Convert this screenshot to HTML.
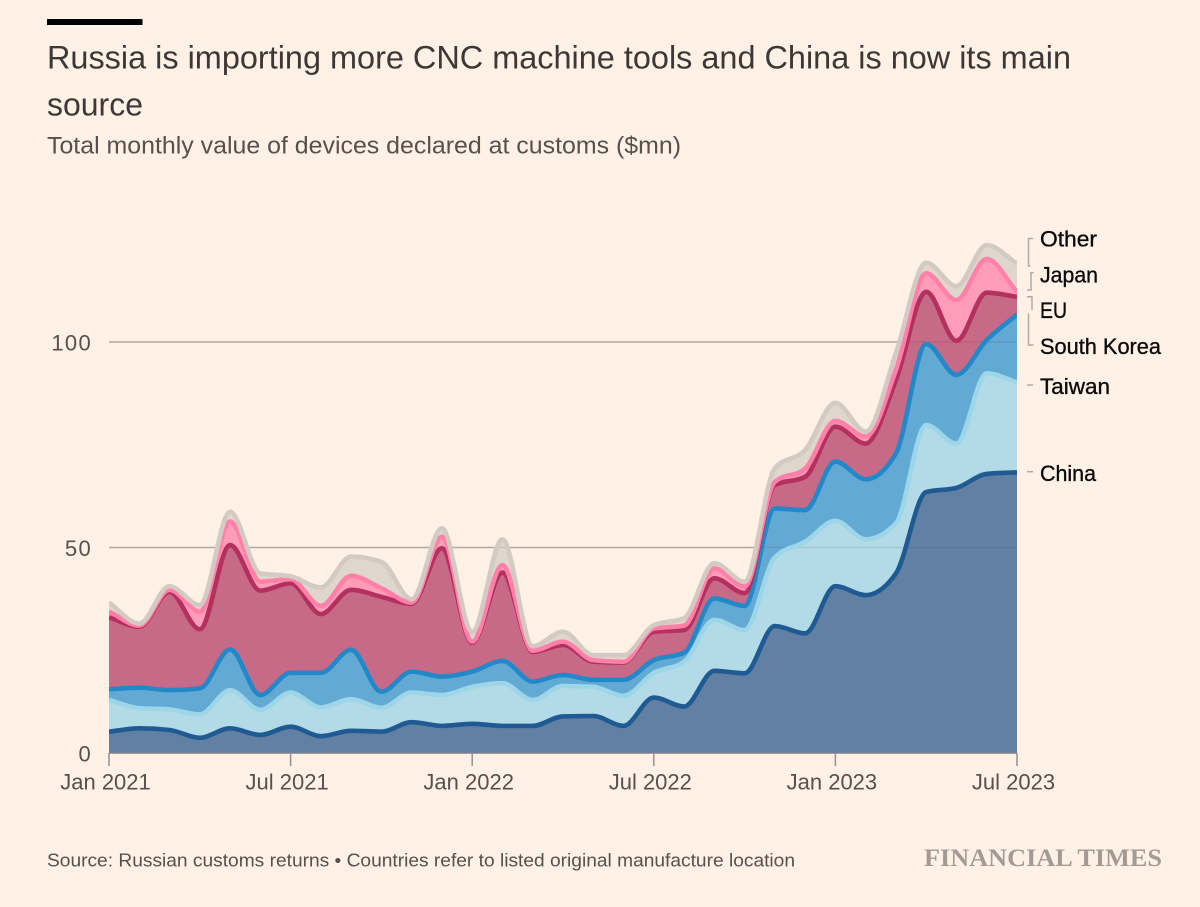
<!DOCTYPE html>
<html lang="en">
<head>
<meta charset="utf-8">
<title>Russia CNC machine tool imports</title>
<style>
html,body{margin:0;padding:0;background:#fff1e6;width:1200px;height:907px;overflow:hidden}
svg{display:block;font-family:"Liberation Sans",sans-serif}
</style>
</head>
<body>
<svg id="chart" xmlns="http://www.w3.org/2000/svg" width="1200" height="907" viewBox="0 0 1200 907">
  <defs>
    <clipPath id="plot-clip"><rect x="109" y="150" width="908" height="603.5"/></clipPath>
  </defs>
  <rect width="1200" height="907" fill="#fff1e6"/>
  <rect x="47" y="19" width="95.5" height="6" fill="#000"/>
  <text x="47" y="68.5" font-size="32.5" fill="#3d3835" textLength="1024" lengthAdjust="spacingAndGlyphs">Russia is importing more CNC machine tools and China is now its main</text>
  <text x="47" y="115.5" font-size="32.5" fill="#3d3835" textLength="96" lengthAdjust="spacingAndGlyphs">source</text>
  <text x="47" y="153.5" font-size="24" fill="#57504c" textLength="634" lengthAdjust="spacingAndGlyphs">Total monthly value of devices declared at customs ($mn)</text>
  <g id="grid-back"></g>
  <g id="areas" clip-path="url(#plot-clip)"></g>
  <g id="grid-front"></g>
  <g id="lines" clip-path="url(#plot-clip)"></g>
  <g id="x-axis"></g>
  <g id="y-axis"></g>
  <g font-size="22" fill="#0b0b0b" stroke="#0b0b0b" stroke-width="0.35">
    <text x="1040" y="246.5" textLength="57" lengthAdjust="spacingAndGlyphs">Other</text>
    <text x="1040" y="282.5" textLength="58" lengthAdjust="spacingAndGlyphs">Japan</text>
    <text x="1040" y="318" textLength="27" lengthAdjust="spacingAndGlyphs">EU</text>
    <text x="1040" y="354" textLength="121" lengthAdjust="spacingAndGlyphs">South Korea</text>
    <text x="1040" y="394" textLength="70" lengthAdjust="spacingAndGlyphs">Taiwan</text>
    <text x="1040" y="481" textLength="56" lengthAdjust="spacingAndGlyphs">China</text>
  </g>
  <g fill="none" stroke="#b0aaa5" stroke-width="1.5">
    <path d="M1033 238.5H1028.500V266H1030.500"/>
    <path d="M1033.500 272.700H1031V290H1027"/>
    <path d="M1027 296.700H1032V310"/>
    <path d="M1028.500 313.500V345H1033.500"/>
    <path d="M1027 385H1033"/>
    <path d="M1027 471.700H1033"/>
  </g>
  <text x="47" y="866.5" font-size="18" fill="#57504c" textLength="748" lengthAdjust="spacingAndGlyphs">Source: Russian customs returns • Countries refer to listed original manufacture location</text>
  <text x="924" y="866" font-size="25" font-weight="700" fill="#a39b93" style="font-family:'Liberation Serif',serif" textLength="238" lengthAdjust="spacingAndGlyphs">FINANCIAL TIMES</text>
</svg>
<script>
const monthCount = ["2021-01","2021-02","2021-03","2021-04","2021-05","2021-06","2021-07","2021-08","2021-09","2021-10","2021-11","2021-12","2022-01","2022-02","2022-03","2022-04","2022-05","2022-06","2022-07","2022-08","2022-09","2022-10","2022-11","2022-12","2023-01","2023-02","2023-03","2023-04","2023-05","2023-06","2023-07"];
const china = [5.2,6.0,5.6,3.7,6.0,4.4,6.4,4.1,5.4,5.2,7.5,6.6,7.1,6.6,6.6,8.9,9.0,6.6,13.5,11.3,20.0,19.4,30.9,29.1,40.6,38.4,43.7,63.5,64.5,67.9,68.3];
const taiwan = [7.7,4.9,5.0,5.7,9.3,6.1,8.3,7.0,7.7,5.8,7.2,7.5,9.0,10.4,6.3,7.4,7.1,7.3,6.0,10.9,12.4,10.5,16.7,22.3,15.9,13.6,12.2,16.3,10.8,24.5,21.9];
const southKorea = [2.6,5.0,4.7,6.3,9.9,3.6,4.8,8.4,12.0,3.9,5.1,4.5,3.7,5.4,4.5,2.7,1.7,3.9,3.1,2.2,5.2,5.9,11.9,7.7,14.4,14.6,17.0,19.7,16.7,8.1,16.5];
const eu = [17.5,14.8,23.9,14.4,25.4,25.4,21.8,14.3,14.6,23.1,16.5,31.2,7.0,21.5,7.2,7.3,4.4,4.2,6.9,5.5,4.9,3.1,5.7,8.1,8.5,8.7,17.8,12.7,8.3,11.5,4.3];
const japan = [1.4,0.3,0.5,4.3,5.7,2.2,1.0,2.0,3.4,2.1,0.3,2.8,0.3,1.8,0.3,0.8,0.4,0.2,0.8,1.1,2.4,1.6,0.8,2.0,1.4,1.7,2.5,4.5,9.9,8.2,1.2];
const other = [2.2,0.5,0.9,1.6,2.4,2.0,0.7,4.5,4.7,6.4,0.8,2.1,2.4,6.3,1.1,2.4,1.2,1.6,0.8,1.8,1.3,1.2,3.3,4.5,4.4,1.2,4.1,2.6,3.4,3.4,6.9];
const yTicks = [0,50,100];
const xTickLabels = ["Jan 2021","Jul 2021","Jan 2022","Jul 2022","Jan 2023","Jul 2023"];
const xTickMonths = [0,6,12,18,24,30];

const xScale = m => 109 + (1017 - 109) * m / 30;
const yScale = v => 753 - (753 - 342) * v / 100;
const NS = "http://www.w3.org/2000/svg";
const fmt = n => n.toFixed(2);

function monotonePath(pts) {
  const n = pts.length, slopes = [], tang = [];
  for (let i = 0; i < n - 1; i++) slopes.push((pts[i+1][1] - pts[i][1]) / (pts[i+1][0] - pts[i][0]));
  for (let i = 1; i < n - 1; i++) {
    const a = slopes[i-1], b = slopes[i];
    tang[i] = a * b <= 0 ? 0 : (Math.sign(a) * Math.min(Math.abs(a), Math.abs(b), (Math.abs(a) + Math.abs(b)) / 4) * 2);
  }
  tang[0] = slopes[0];
  tang[n-1] = slopes[n-2];
  let d = "M" + fmt(pts[0][0]) + " " + fmt(pts[0][1]);
  for (let i = 0; i < n - 1; i++) {
    const h = (pts[i+1][0] - pts[i][0]) / 3;
    d += "C" + fmt(pts[i][0] + h) + " " + fmt(pts[i][1] + h * tang[i]) + " " + fmt(pts[i+1][0] - h) + " " + fmt(pts[i+1][1] - h * tang[i+1]) + " " + fmt(pts[i+1][0]) + " " + fmt(pts[i+1][1]);
  }
  return d;
}

const stack = [
  {key: "china", values: china, fill: "#6280a4", line: "#1f5a92"},
  {key: "taiwan", values: taiwan, fill: "#b3dbe7", line: "#9dd5e9"},
  {key: "south-korea", values: southKorea, fill: "#62a9d3", line: "#2388c8"},
  {key: "eu", values: eu, fill: "#c76a88", line: "#b3305f"},
  {key: "japan", values: japan, fill: "#ff9cba", line: "#ff80a9"},
  {key: "other", values: other, fill: "#dfd6cc", line: "#d3cbc2"}
];

let running = monthCount.map(() => 0);
stack.forEach(s => {
  running = running.map((r, i) => r + s.values[i]);
  s.points = running.map((v, i) => [xScale(i), yScale(v)]);
  s.path = monotonePath(s.points);
});

const areas = document.getElementById("areas");
[...stack].reverse().forEach(s => {
  const el = document.createElementNS(NS, "path");
  el.setAttribute("d", s.path + "L" + fmt(xScale(30)) + " " + fmt(yScale(0)) + "L" + fmt(xScale(0)) + " " + fmt(yScale(0)) + "Z");
  el.setAttribute("fill", s.fill);
  
  
  areas.appendChild(el);
});

const lines = document.getElementById("lines");
stack.forEach(s => {
  const el = document.createElementNS(NS, "path");
  el.setAttribute("d", s.path);
  el.setAttribute("fill", "none");
  el.setAttribute("stroke", s.line);
  el.setAttribute("stroke-width", "4.6");
  el.setAttribute("stroke-linejoin", "round");
  
  
  lines.appendChild(el);
});

const gridBack = document.getElementById("grid-back");
const gridFront = document.getElementById("grid-front");
const yAxis = document.getElementById("y-axis");
yTicks.forEach(t => {
  if (t > 0) {
    const g = document.createElementNS(NS, "line");
    g.setAttribute("x1", xScale(0));
    g.setAttribute("x2", xScale(30));
    g.setAttribute("y1", yScale(t));
    g.setAttribute("y2", yScale(t));
    g.setAttribute("stroke", "#c4b9b1");
    g.setAttribute("stroke-width", "1.4");
    
    
    gridBack.appendChild(g);
    const f = document.createElementNS(NS, "line");
    f.setAttribute("x1", xScale(0));
    f.setAttribute("x2", xScale(30));
    f.setAttribute("y1", yScale(t));
    f.setAttribute("y2", yScale(t));
    f.setAttribute("stroke", "rgba(60,50,60,0.12)");
    f.setAttribute("stroke-width", "1.4");
    
    
    gridFront.appendChild(f);
  }
  const lab = document.createElementNS(NS, "text");
  lab.setAttribute("x", 92);
  lab.setAttribute("y", yScale(t) + 8.5);
  lab.setAttribute("text-anchor", "end");
  lab.setAttribute("font-size", "22");
  lab.setAttribute("letter-spacing", "1.3");
  lab.setAttribute("fill", "#57504c");
  
  
  lab.textContent = t;
  yAxis.appendChild(lab);
});

const xAxis = document.getElementById("x-axis");
const baseLine = document.createElementNS(NS, "line");
baseLine.setAttribute("x1", xScale(0));
baseLine.setAttribute("x2", xScale(30));
baseLine.setAttribute("y1", yScale(0));
baseLine.setAttribute("y2", yScale(0));
baseLine.setAttribute("stroke", "#7c838f");
baseLine.setAttribute("stroke-width", "1.5");


xAxis.appendChild(baseLine);

xTickMonths.forEach((m, i) => {
  const tick = document.createElementNS(NS, "line");
  tick.setAttribute("x1", xScale(m));
  tick.setAttribute("x2", xScale(m));
  tick.setAttribute("y1", yScale(0));
  tick.setAttribute("y2", yScale(0) + 13);
  tick.setAttribute("stroke", "#94908d");
  tick.setAttribute("stroke-width", "1.5");
  
  
  xAxis.appendChild(tick);
  const lab = document.createElementNS(NS, "text");
  lab.setAttribute("x", xScale(m) - 3.5);
  lab.setAttribute("y", 789.5);
  lab.setAttribute("text-anchor", "middle");
  lab.setAttribute("font-size", "22");
  lab.setAttribute("fill", "#57504c");
  
  
  lab.textContent = xTickLabels[i];
  xAxis.appendChild(lab);
});
</script>
</body>
</html>
